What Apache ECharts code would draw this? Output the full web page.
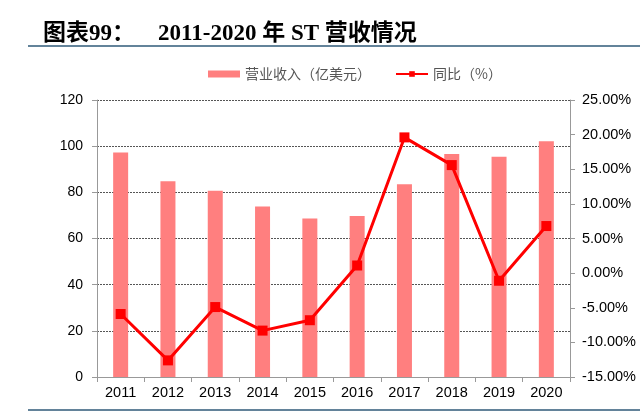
<!DOCTYPE html>
<html><head><meta charset="utf-8">
<script src="https://cdn.jsdelivr.net/npm/echarts@6/dist/echarts.min.js"></script>
<style>html,body{margin:0;padding:0;background:#fff}#c{width:640px;height:415px}</style>
</head><body><div id="c"></div>
<script>
const categories = ['2011','2012','2013','2014','2015','2016','2017','2018','2019','2020'];
const revenue = [97.3, 84.8, 80.7, 73.9, 68.7, 69.7, 83.5, 96.6, 95.4, 102.1];
const yoy = [-5.9, -12.6, -4.9, -8.3, -6.8, 1.1, 19.6, 15.6, -1.1, 6.8];
const seriesNames = ['营业收入（亿美元）', '同比（%）'];
const titleText = '图表99：    2011-2020 年 ST 营收情况';

const chart = echarts.init(document.getElementById('c'));
chart.setOption({
  animation: false,
  title: {
    text: titleText, left: 38, top: 18,
    textStyle: { fontFamily: 'Liberation Serif, Noto Sans CJK SC', fontSize: 23, fontWeight: 'bold', color: '#000' }
  },
  graphic: [
    { type: 'line', shape: { x1: 28, y1: 46, x2: 640, y2: 46 }, style: { stroke: '#2F5A78', lineWidth: 1.5 } },
    { type: 'line', shape: { x1: 28, y1: 410, x2: 640, y2: 410 }, style: { stroke: '#2F5A78', lineWidth: 1.5 } }
  ],
  legend: {
    top: 62, left: 203, itemGap: 24, itemWidth: 32, itemHeight: 7,
    textStyle: { fontFamily: 'Noto Sans CJK SC', fontSize: 14, color: '#555' },
    data: [
      { name: seriesNames[0], icon: 'rect' },
      { name: seriesNames[1] }
    ]
  },
  grid: { left: 97, right: 70, top: 100, bottom: 38 },
  xAxis: {
    type: 'category', data: categories,
    axisLine: { lineStyle: { color: '#999' } },
    axisTick: { show: true, lineStyle: { color: '#999' } },
    axisLabel: { color: '#000', fontFamily: 'Liberation Sans', fontSize: 14.5, margin: 8 }
  },
  yAxis: [
    {
      type: 'value', min: 0, max: 120, interval: 20,
      axisLine: { show: true, lineStyle: { color: '#999' } },
      axisTick: { show: true, lineStyle: { color: '#999' } },
      axisLabel: { color: '#000', fontFamily: 'Liberation Sans', fontSize: 14, margin: 14 },
      splitLine: { lineStyle: { color: '#555', type: [2, 1] } }
    },
    {
      type: 'value', min: -15, max: 25, interval: 5,
      axisLine: { show: true, lineStyle: { color: '#999' } },
      axisTick: { show: true, lineStyle: { color: '#999' } },
      axisLabel: { color: '#000', fontFamily: 'Liberation Sans', fontSize: 14.5, margin: 12,
        formatter: v => v.toFixed(2) + '%' },
      splitLine: { show: false }
    }
  ],
  series: [
    {
      name: seriesNames[0], type: 'bar', data: revenue, barWidth: 15,
      itemStyle: { color: '#FF7F7F' }
    },
    {
      name: seriesNames[1], type: 'line', yAxisIndex: 1, data: yoy,
      symbol: 'rect', symbolSize: 10,
      lineStyle: { color: '#FF0000', width: 3 },
      itemStyle: { color: '#FF0000' }
    }
  ]
});
</script></body></html>
